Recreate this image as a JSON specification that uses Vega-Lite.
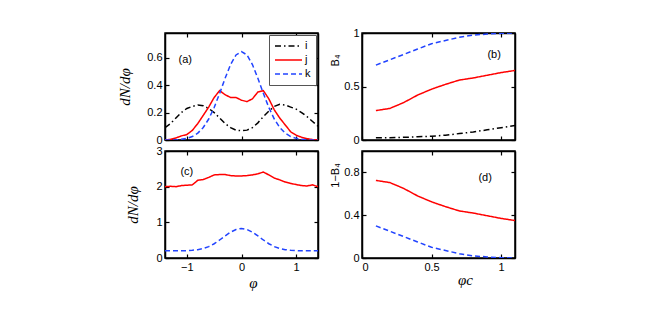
{
  "$schema": "https://vega.github.io/schema/vega-lite/v6.json",
  "background": "white",
  "padding": {"left": 116, "top": 26, "right": 5, "bottom": 5},
  "columns": 2,
  "spacing": {"row": 11, "column": 44},
  "bounds": "flush",
  "resolve": {"scale": {"color": "independent", "strokeDash": "independent"}},
  "datasets": {
    "a": [
      {"x": -1.4, "y": 0.09, "s": "i"}, {"x": -1.3, "y": 0.12, "s": "i"}, {"x": -1.2, "y": 0.16, "s": "i"}, {"x": -1.1, "y": 0.2, "s": "i"}, {"x": -1.0, "y": 0.23, "s": "i"}, {"x": -0.9, "y": 0.245, "s": "i"}, {"x": -0.8, "y": 0.255, "s": "i"}, {"x": -0.7, "y": 0.25, "s": "i"}, {"x": -0.6, "y": 0.23, "s": "i"}, {"x": -0.5, "y": 0.2, "s": "i"}, {"x": -0.4, "y": 0.16, "s": "i"}, {"x": -0.3, "y": 0.12, "s": "i"}, {"x": -0.2, "y": 0.09, "s": "i"}, {"x": -0.1, "y": 0.072, "s": "i"}, {"x": 0.0, "y": 0.068, "s": "i"}, {"x": 0.1, "y": 0.072, "s": "i"}, {"x": 0.2, "y": 0.09, "s": "i"}, {"x": 0.3, "y": 0.125, "s": "i"}, {"x": 0.4, "y": 0.17, "s": "i"}, {"x": 0.5, "y": 0.21, "s": "i"}, {"x": 0.6, "y": 0.245, "s": "i"}, {"x": 0.7, "y": 0.26, "s": "i"}, {"x": 0.8, "y": 0.255, "s": "i"}, {"x": 0.9, "y": 0.24, "s": "i"}, {"x": 1.0, "y": 0.225, "s": "i"}, {"x": 1.1, "y": 0.2, "s": "i"}, {"x": 1.2, "y": 0.17, "s": "i"}, {"x": 1.3, "y": 0.135, "s": "i"}, {"x": 1.4, "y": 0.1, "s": "i"},
      {"x": -1.4, "y": 0.0, "s": "j"}, {"x": -1.3, "y": 0.005, "s": "j"}, {"x": -1.2, "y": 0.015, "s": "j"}, {"x": -1.1, "y": 0.03, "s": "j"}, {"x": -1.0, "y": 0.04, "s": "j"}, {"x": -0.9, "y": 0.07, "s": "j"}, {"x": -0.8, "y": 0.12, "s": "j"}, {"x": -0.7, "y": 0.18, "s": "j"}, {"x": -0.6, "y": 0.24, "s": "j"}, {"x": -0.5, "y": 0.31, "s": "j"}, {"x": -0.4, "y": 0.36, "s": "j"}, {"x": -0.3, "y": 0.33, "s": "j"}, {"x": -0.2, "y": 0.31, "s": "j"}, {"x": -0.1, "y": 0.31, "s": "j"}, {"x": 0.0, "y": 0.29, "s": "j"}, {"x": 0.1, "y": 0.28, "s": "j"}, {"x": 0.2, "y": 0.3, "s": "j"}, {"x": 0.3, "y": 0.35, "s": "j"}, {"x": 0.4, "y": 0.36, "s": "j"}, {"x": 0.5, "y": 0.3, "s": "j"}, {"x": 0.6, "y": 0.22, "s": "j"}, {"x": 0.7, "y": 0.16, "s": "j"}, {"x": 0.8, "y": 0.11, "s": "j"}, {"x": 0.9, "y": 0.06, "s": "j"}, {"x": 1.0, "y": 0.035, "s": "j"}, {"x": 1.1, "y": 0.02, "s": "j"}, {"x": 1.2, "y": 0.01, "s": "j"}, {"x": 1.3, "y": 0.003, "s": "j"}, {"x": 1.4, "y": 0.0, "s": "j"},
      {"x": -1.4, "y": 0.0, "s": "k"}, {"x": -1.3, "y": 0.0, "s": "k"}, {"x": -1.2, "y": 0.0, "s": "k"}, {"x": -1.1, "y": 0.005, "s": "k"}, {"x": -1.0, "y": 0.012, "s": "k"}, {"x": -0.9, "y": 0.025, "s": "k"}, {"x": -0.8, "y": 0.05, "s": "k"}, {"x": -0.7, "y": 0.091, "s": "k"}, {"x": -0.6, "y": 0.153, "s": "k"}, {"x": -0.5, "y": 0.237, "s": "k"}, {"x": -0.4, "y": 0.34, "s": "k"}, {"x": -0.3, "y": 0.45, "s": "k"}, {"x": -0.2, "y": 0.55, "s": "k"}, {"x": -0.1, "y": 0.62, "s": "k"}, {"x": 0.0, "y": 0.645, "s": "k"}, {"x": 0.1, "y": 0.62, "s": "k"}, {"x": 0.2, "y": 0.55, "s": "k"}, {"x": 0.3, "y": 0.45, "s": "k"}, {"x": 0.4, "y": 0.34, "s": "k"}, {"x": 0.5, "y": 0.237, "s": "k"}, {"x": 0.6, "y": 0.153, "s": "k"}, {"x": 0.7, "y": 0.091, "s": "k"}, {"x": 0.8, "y": 0.05, "s": "k"}, {"x": 0.9, "y": 0.025, "s": "k"}, {"x": 1.0, "y": 0.012, "s": "k"}, {"x": 1.1, "y": 0.005, "s": "k"}, {"x": 1.2, "y": 0.0, "s": "k"}, {"x": 1.3, "y": 0.0, "s": "k"}, {"x": 1.4, "y": 0.0, "s": "k"}
    ],
    "b": [
      {"x": 0.1, "y": 0.02, "s": "i"}, {"x": 0.2, "y": 0.022, "s": "i"}, {"x": 0.3, "y": 0.025, "s": "i"}, {"x": 0.4, "y": 0.03, "s": "i"}, {"x": 0.5, "y": 0.035, "s": "i"}, {"x": 0.6, "y": 0.045, "s": "i"}, {"x": 0.7, "y": 0.06, "s": "i"}, {"x": 0.8, "y": 0.075, "s": "i"}, {"x": 0.9, "y": 0.095, "s": "i"}, {"x": 1.0, "y": 0.115, "s": "i"}, {"x": 1.1, "y": 0.135, "s": "i"},
      {"x": 0.1, "y": 0.275, "s": "j"}, {"x": 0.2, "y": 0.295, "s": "j"}, {"x": 0.3, "y": 0.35, "s": "j"}, {"x": 0.4, "y": 0.42, "s": "j"}, {"x": 0.5, "y": 0.475, "s": "j"}, {"x": 0.6, "y": 0.52, "s": "j"}, {"x": 0.7, "y": 0.56, "s": "j"}, {"x": 0.8, "y": 0.58, "s": "j"}, {"x": 0.9, "y": 0.605, "s": "j"}, {"x": 1.0, "y": 0.63, "s": "j"}, {"x": 1.1, "y": 0.65, "s": "j"},
      {"x": 0.1, "y": 0.7, "s": "k"}, {"x": 0.2, "y": 0.75, "s": "k"}, {"x": 0.3, "y": 0.8, "s": "k"}, {"x": 0.4, "y": 0.85, "s": "k"}, {"x": 0.5, "y": 0.9, "s": "k"}, {"x": 0.6, "y": 0.93, "s": "k"}, {"x": 0.7, "y": 0.96, "s": "k"}, {"x": 0.8, "y": 0.98, "s": "k"}, {"x": 0.9, "y": 0.99, "s": "k"}, {"x": 1.0, "y": 0.997, "s": "k"}, {"x": 1.1, "y": 1.0, "s": "k"}
    ],
    "c": [
      {"x": -1.4, "y": 2.0, "s": "j"}, {"x": -1.3, "y": 2.01, "s": "j"}, {"x": -1.2, "y": 2.0, "s": "j"}, {"x": -1.1, "y": 2.03, "s": "j"}, {"x": -1.0, "y": 2.04, "s": "j"}, {"x": -0.9, "y": 2.05, "s": "j"}, {"x": -0.8, "y": 2.18, "s": "j"}, {"x": -0.7, "y": 2.2, "s": "j"}, {"x": -0.6, "y": 2.26, "s": "j"}, {"x": -0.5, "y": 2.33, "s": "j"}, {"x": -0.4, "y": 2.34, "s": "j"}, {"x": -0.3, "y": 2.34, "s": "j"}, {"x": -0.2, "y": 2.31, "s": "j"}, {"x": -0.1, "y": 2.3, "s": "j"}, {"x": 0.0, "y": 2.3, "s": "j"}, {"x": 0.1, "y": 2.31, "s": "j"}, {"x": 0.2, "y": 2.33, "s": "j"}, {"x": 0.3, "y": 2.36, "s": "j"}, {"x": 0.4, "y": 2.41, "s": "j"}, {"x": 0.5, "y": 2.33, "s": "j"}, {"x": 0.6, "y": 2.24, "s": "j"}, {"x": 0.7, "y": 2.19, "s": "j"}, {"x": 0.8, "y": 2.13, "s": "j"}, {"x": 0.9, "y": 2.09, "s": "j"}, {"x": 1.0, "y": 2.06, "s": "j"}, {"x": 1.1, "y": 2.03, "s": "j"}, {"x": 1.2, "y": 2.02, "s": "j"}, {"x": 1.3, "y": 2.05, "s": "j"}, {"x": 1.4, "y": 2.0, "s": "j"},
      {"x": -1.4, "y": 0.2, "s": "k"}, {"x": -1.3, "y": 0.2, "s": "k"}, {"x": -1.2, "y": 0.2, "s": "k"}, {"x": -1.1, "y": 0.2, "s": "k"}, {"x": -1.0, "y": 0.206, "s": "k"}, {"x": -0.9, "y": 0.216, "s": "k"}, {"x": -0.8, "y": 0.234, "s": "k"}, {"x": -0.7, "y": 0.268, "s": "k"}, {"x": -0.6, "y": 0.32, "s": "k"}, {"x": -0.5, "y": 0.4, "s": "k"}, {"x": -0.4, "y": 0.505, "s": "k"}, {"x": -0.3, "y": 0.62, "s": "k"}, {"x": -0.2, "y": 0.725, "s": "k"}, {"x": -0.1, "y": 0.8, "s": "k"}, {"x": 0.0, "y": 0.83, "s": "k"}, {"x": 0.1, "y": 0.8, "s": "k"}, {"x": 0.2, "y": 0.725, "s": "k"}, {"x": 0.3, "y": 0.62, "s": "k"}, {"x": 0.4, "y": 0.505, "s": "k"}, {"x": 0.5, "y": 0.4, "s": "k"}, {"x": 0.6, "y": 0.32, "s": "k"}, {"x": 0.7, "y": 0.268, "s": "k"}, {"x": 0.8, "y": 0.234, "s": "k"}, {"x": 0.9, "y": 0.216, "s": "k"}, {"x": 1.0, "y": 0.206, "s": "k"}, {"x": 1.1, "y": 0.2, "s": "k"}, {"x": 1.2, "y": 0.2, "s": "k"}, {"x": 1.3, "y": 0.2, "s": "k"}, {"x": 1.4, "y": 0.2, "s": "k"}
    ],
    "d": [
      {"x": 0.1, "y": 0.725, "s": "j"}, {"x": 0.2, "y": 0.705, "s": "j"}, {"x": 0.3, "y": 0.65, "s": "j"}, {"x": 0.4, "y": 0.58, "s": "j"}, {"x": 0.5, "y": 0.525, "s": "j"}, {"x": 0.6, "y": 0.48, "s": "j"}, {"x": 0.7, "y": 0.44, "s": "j"}, {"x": 0.8, "y": 0.42, "s": "j"}, {"x": 0.9, "y": 0.395, "s": "j"}, {"x": 1.0, "y": 0.37, "s": "j"}, {"x": 1.1, "y": 0.35, "s": "j"},
      {"x": 0.1, "y": 0.3, "s": "k"}, {"x": 0.2, "y": 0.25, "s": "k"}, {"x": 0.3, "y": 0.2, "s": "k"}, {"x": 0.4, "y": 0.15, "s": "k"}, {"x": 0.5, "y": 0.1, "s": "k"}, {"x": 0.6, "y": 0.07, "s": "k"}, {"x": 0.7, "y": 0.04, "s": "k"}, {"x": 0.8, "y": 0.02, "s": "k"}, {"x": 0.9, "y": 0.01, "s": "k"}, {"x": 1.0, "y": 0.003, "s": "k"}, {"x": 1.1, "y": 0.0, "s": "k"}
    ],
    "labels": [
      {"p": "a", "x": -1.03, "y": 0.585, "t": "(a)"},
      {"p": "b", "x": 0.95, "y": 0.79, "t": "(b)"},
      {"p": "c", "x": -1.0, "y": 2.4, "t": "(c)"},
      {"p": "d", "x": 0.885, "y": 0.75, "t": "(d)"}
    ]
  },
  "concat": [
    {
      "width": 153, "height": 107,
      "layer": [
        {
          "data": {"name": "a"},
          "mark": {"type": "line", "strokeWidth": 1.5, "clip": true},
          "encoding": {
            "x": {"field": "x", "type": "quantitative", "scale": {"domain": [-1.4, 1.4], "nice": false, "zero": false}, "axis": {"orient": "bottom", "values": [-1, 0, 1], "labels": false, "title": null}},
            "y": {"field": "y", "type": "quantitative", "scale": {"domain": [0, 0.78], "nice": false, "zero": false}, "axis": {"orient": "left", "values": [0, 0.2, 0.4, 0.6], "format": "~g", "title": "dN/dφ", "titleFont": "Liberation Serif", "titleFontStyle": "italic", "titleFontWeight": "normal", "titleFontSize": 15, "titlePadding": 14}},
            "color": {"field": "s", "type": "nominal", "scale": {"domain": ["i", "j", "k"], "range": ["#000000", "#ff0000", "#2244ff"]},
              "legend": {"orient": "top-right", "offset": 2, "title": null, "fillColor": "white", "strokeColor": "#555555", "padding": 5, "labelFont": "Liberation Sans", "labelFontSize": 11, "labelColor": "black", "symbolType": "stroke", "symbolSize": 729, "symbolStrokeWidth": 1.5, "rowPadding": 2, "clipHeight": 12, "labelOffset": 2}},
            "strokeDash": {"field": "s", "type": "nominal", "scale": {"domain": ["i", "j", "k"], "range": [[6, 3, 1.5, 3], [1, 0], [5, 3]]},
              "legend": {"orient": "top-right", "offset": 2, "title": null, "fillColor": "white", "strokeColor": "#555555", "padding": 5, "labelFont": "Liberation Sans", "labelFontSize": 11, "labelColor": "black", "symbolType": "stroke", "symbolSize": 729, "symbolStrokeWidth": 1.5, "rowPadding": 2, "clipHeight": 12, "labelOffset": 2}}
          }
        },
        {
          "data": {"name": "a"},
          "mark": {"type": "point", "opacity": 0},
          "encoding": {
            "x": {"field": "x", "type": "quantitative", "scale": {"domain": [-1.4, 1.4], "nice": false, "zero": false}, "axis": {"orient": "top", "values": [-1, 0, 1], "labels": false, "title": null}},
            "y": {"field": "y", "type": "quantitative", "scale": {"domain": [0, 0.78], "nice": false, "zero": false}, "axis": {"orient": "right", "values": [0, 0.2, 0.4, 0.6], "labels": false, "title": null}}
          }
        },
        {
          "data": {"name": "labels"},
          "transform": [{"filter": "datum.p === 'a'"}],
          "mark": {"type": "text", "font": "Liberation Sans", "fontSize": 11, "fill": "black"},
          "encoding": {
            "x": {"field": "x", "type": "quantitative", "axis": null},
            "y": {"field": "y", "type": "quantitative", "axis": null},
            "text": {"field": "t"}
          }
        }
      ],
      "resolve": {"axis": {"x": "independent", "y": "independent"}}
    },
    {
      "width": 153, "height": 107,
      "layer": [
        {
          "data": {"name": "b"},
          "mark": {"type": "line", "strokeWidth": 1.5, "clip": true},
          "encoding": {
            "x": {"field": "x", "type": "quantitative", "scale": {"domain": [0, 1.1], "nice": false, "zero": false}, "axis": {"orient": "bottom", "values": [0, 0.5, 1], "labels": false, "title": null}},
            "y": {"field": "y", "type": "quantitative", "scale": {"domain": [0, 1], "nice": false, "zero": false}, "axis": {"orient": "left", "values": [0, 0.5, 1], "format": "~g", "title": "B₄", "titleFont": "Liberation Sans", "titleFontWeight": "normal", "titleFontSize": 11, "titlePadding": 3, "titleY": 27}},
            "color": {"field": "s", "type": "nominal", "scale": {"domain": ["i", "j", "k"], "range": ["#000000", "#ff0000", "#2244ff"]}, "legend": null},
            "strokeDash": {"field": "s", "type": "nominal", "scale": {"domain": ["i", "j", "k"], "range": [[6, 3, 1.5, 3], [1, 0], [5, 3]]}, "legend": null}
          }
        },
        {
          "data": {"name": "b"},
          "mark": {"type": "point", "opacity": 0},
          "encoding": {
            "x": {"field": "x", "type": "quantitative", "scale": {"domain": [0, 1.1], "nice": false, "zero": false}, "axis": {"orient": "top", "values": [0, 0.5, 1], "labels": false, "title": null}},
            "y": {"field": "y", "type": "quantitative", "scale": {"domain": [0, 1], "nice": false, "zero": false}, "axis": {"orient": "right", "values": [0, 0.5, 1], "labels": false, "title": null}}
          }
        },
        {
          "data": {"name": "labels"},
          "transform": [{"filter": "datum.p === 'b'"}],
          "mark": {"type": "text", "font": "Liberation Sans", "fontSize": 11, "fill": "black"},
          "encoding": {
            "x": {"field": "x", "type": "quantitative", "axis": null},
            "y": {"field": "y", "type": "quantitative", "axis": null},
            "text": {"field": "t"}
          }
        }
      ],
      "resolve": {"axis": {"x": "independent", "y": "independent"}}
    },
    {
      "width": 153, "height": 107,
      "layer": [
        {
          "data": {"name": "c"},
          "mark": {"type": "line", "strokeWidth": 1.5, "clip": true},
          "encoding": {
            "x": {"field": "x", "type": "quantitative", "scale": {"domain": [-1.4, 1.4], "nice": false, "zero": false}, "axis": {"orient": "bottom", "values": [-1, 0, 1], "format": "~g", "title": "φ", "titleFont": "Liberation Serif", "titleFontStyle": "italic", "titleFontWeight": "normal", "titleFontSize": 15, "titlePadding": 3, "titleX": 88}},
            "y": {"field": "y", "type": "quantitative", "scale": {"domain": [0, 3], "nice": false, "zero": false}, "axis": {"orient": "left", "values": [0, 1, 2, 3], "format": "~g", "title": "dN/dφ", "titleFont": "Liberation Serif", "titleFontStyle": "italic", "titleFontWeight": "normal", "titleFontSize": 15, "titlePadding": 15}},
            "color": {"field": "s", "type": "nominal", "scale": {"domain": ["i", "j", "k"], "range": ["#000000", "#ff0000", "#2244ff"]}, "legend": null},
            "strokeDash": {"field": "s", "type": "nominal", "scale": {"domain": ["i", "j", "k"], "range": [[6, 3, 1.5, 3], [1, 0], [5, 3]]}, "legend": null}
          }
        },
        {
          "data": {"name": "c"},
          "mark": {"type": "point", "opacity": 0},
          "encoding": {
            "x": {"field": "x", "type": "quantitative", "scale": {"domain": [-1.4, 1.4], "nice": false, "zero": false}, "axis": {"orient": "top", "values": [-1, 0, 1], "labels": false, "title": null}},
            "y": {"field": "y", "type": "quantitative", "scale": {"domain": [0, 3], "nice": false, "zero": false}, "axis": {"orient": "right", "values": [0, 1, 2, 3], "labels": false, "title": null}}
          }
        },
        {
          "data": {"name": "labels"},
          "transform": [{"filter": "datum.p === 'c'"}],
          "mark": {"type": "text", "font": "Liberation Sans", "fontSize": 11, "fill": "black"},
          "encoding": {
            "x": {"field": "x", "type": "quantitative", "axis": null},
            "y": {"field": "y", "type": "quantitative", "axis": null},
            "text": {"field": "t"}
          }
        }
      ],
      "resolve": {"axis": {"x": "independent", "y": "independent"}}
    },
    {
      "width": 153, "height": 107,
      "layer": [
        {
          "data": {"name": "d"},
          "mark": {"type": "line", "strokeWidth": 1.5, "clip": true},
          "encoding": {
            "x": {"field": "x", "type": "quantitative", "scale": {"domain": [0, 1.1], "nice": false, "zero": false}, "axis": {"orient": "bottom", "values": [0, 0.5, 1], "format": "~g", "title": "φc", "titleFont": "Liberation Serif", "titleFontStyle": "italic", "titleFontWeight": "normal", "titleFontSize": 15, "titlePadding": 0, "titleX": 103}},
            "y": {"field": "y", "type": "quantitative", "scale": {"domain": [0, 1], "nice": false, "zero": false}, "axis": {"orient": "left", "values": [0, 0.4, 0.8], "format": "~g", "title": "1−B₄", "titleFont": "Liberation Sans", "titleFontWeight": "normal", "titleFontSize": 11, "titlePadding": 3, "titleY": 24}},
            "color": {"field": "s", "type": "nominal", "scale": {"domain": ["i", "j", "k"], "range": ["#000000", "#ff0000", "#2244ff"]}, "legend": null},
            "strokeDash": {"field": "s", "type": "nominal", "scale": {"domain": ["i", "j", "k"], "range": [[6, 3, 1.5, 3], [1, 0], [5, 3]]}, "legend": null}
          }
        },
        {
          "data": {"name": "d"},
          "mark": {"type": "point", "opacity": 0},
          "encoding": {
            "x": {"field": "x", "type": "quantitative", "scale": {"domain": [0, 1.1], "nice": false, "zero": false}, "axis": {"orient": "top", "values": [0, 0.5, 1], "labels": false, "title": null}},
            "y": {"field": "y", "type": "quantitative", "scale": {"domain": [0, 1], "nice": false, "zero": false}, "axis": {"orient": "right", "values": [0, 0.4, 0.8], "labels": false, "title": null}}
          }
        },
        {
          "data": {"name": "labels"},
          "transform": [{"filter": "datum.p === 'd'"}],
          "mark": {"type": "text", "font": "Liberation Sans", "fontSize": 11, "fill": "black"},
          "encoding": {
            "x": {"field": "x", "type": "quantitative", "axis": null},
            "y": {"field": "y", "type": "quantitative", "axis": null},
            "text": {"field": "t"}
          }
        }
      ],
      "resolve": {"axis": {"x": "independent", "y": "independent"}}
    }
  ],
  "config": {
    "view": {"stroke": "black", "strokeWidth": 1.5},
    "axis": {"grid": false, "domainColor": "black", "domainWidth": 1.5, "tickColor": "black", "tickWidth": 1.2, "tickSize": -4, "labelColor": "black", "labelFont": "Liberation Sans", "labelFontSize": 11, "labelPadding": 7, "titleColor": "black"}
  }
}
